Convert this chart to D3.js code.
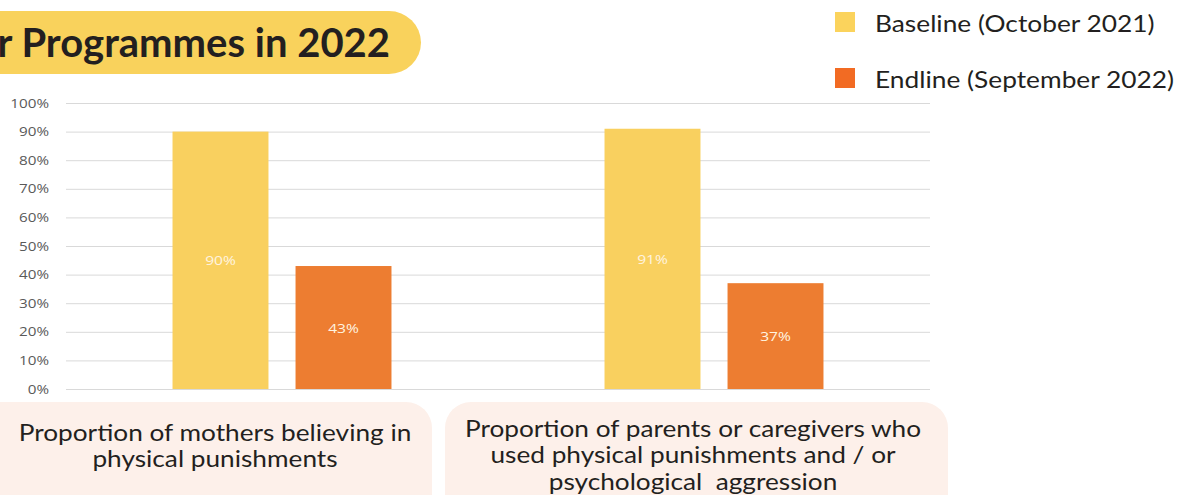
<!DOCTYPE html>
<html>
<head>
<meta charset="utf-8">
<script src="https://cdn.jsdelivr.net/npm/d3@7"></script>
<style>
  html, body { margin: 0; padding: 0; background: #fff; }
  svg { display: block; }
</style>
</head>
<body>
<svg id="chart" width="1193" height="495"></svg>
<script>
// data
const categories = ['mothers', 'parents'];
const categoryLines = [
  ['Proportion of mothers believing in', 'physical punishments'],
  ['Proportion of parents or caregivers who', 'used physical punishments and / or', 'psychological  aggression']
];
const seriesNames = ['Baseline (October 2021)', 'Endline (September 2022)'];
const baseline = [90, 91];
const endline = [43, 37];
const yTicks = [0, 10, 20, 30, 40, 50, 60, 70, 80, 90, 100];

const barColors = ['#F9D05F', '#ED7D31'];
const legendColors = ['#FBD35C', '#F26B23'];

const svg = d3.select('#chart');
const plot = { left: 66, right: 930, top: 103, bottom: 389 };

// title pill (cropped on the left)
svg.append('rect')
  .attr('x', -60).attr('y', 11).attr('width', 481).attr('height', 63)
  .attr('rx', 32).attr('fill', '#F9D25C');
svg.append('text')
  .attr('x', 390).attr('y', 57)
  .attr('text-anchor', 'end')
  .style('font-family', 'Lato').style('font-weight', 700).style('font-size', '40px')
  .attr('fill', '#231F20')
  .text('r Programmes in 2022');

// legend
const legend = svg.append('g');
seriesNames.forEach((name, i) => {
  const g = legend.append('g').attr('transform', `translate(835,${12 + i * 56})`);
  g.append('rect').attr('width', 20).attr('height', 20).attr('fill', legendColors[i]);
  g.append('text').attr('transform', 'translate(40,20) scale(1.12,1)')
    .style('font-family', 'Lato').style('font-size', '23.5px')
    .attr('fill', '#231F20').text(name);
});

// scales
const y = d3.scaleLinear().domain([0, 100]).range([plot.bottom, plot.top]);
const x0 = d3.scaleBand().domain(categories).range([plot.left, plot.right]).padding(0);
const x1 = d3.scaleBand().domain(seriesNames).range([0, x0.bandwidth()])
  .paddingInner(0.22).paddingOuter(0.866);

// gridlines
svg.append('g')
  .attr('transform', `translate(${plot.left},0)`)
  .call(d3.axisLeft(y).tickValues(yTicks).tickSize(-(plot.right - plot.left)).tickFormat(''))
  .call(g => g.select('.domain').remove())
  .call(g => g.selectAll('line').attr('stroke', '#D9D9D9').attr('stroke-width', 1));

// y tick labels
svg.append('g').selectAll('text')
  .data(yTicks).join('text')
  .attr('transform', d => `translate(49,${y(d) + 4.5}) scale(1.22,1)`)
  .attr('text-anchor', 'end')
  .style('font-family', 'Open Sans').style('font-size', '12.5px')
  .attr('fill', '#595959')
  .text(d => d + '%');

// bars
const rows = categories.map((c, i) => ({ cat: c, vals: [baseline[i], endline[i]] }));
const groups = svg.append('g').selectAll('g')
  .data(rows).join('g')
  .attr('transform', d => `translate(${x0(d.cat)},0)`);

groups.selectAll('rect')
  .data(d => d.vals.map((v, j) => ({ s: seriesNames[j], v, j })))
  .join('rect')
  .attr('x', d => x1(d.s))
  .attr('y', d => y(d.v))
  .attr('width', x1.bandwidth())
  .attr('height', d => y(0) - y(d.v))
  .attr('fill', d => barColors[d.j]);

groups.selectAll('text')
  .data(d => d.vals.map((v, j) => ({ s: seriesNames[j], v, j })))
  .join('text')
  .attr('transform', d => `translate(${x1(d.s) + x1.bandwidth() / 2},${(y(d.v) + y(0)) / 2 + 5}) scale(1.2,1)`)
  .attr('text-anchor', 'middle')
  .style('font-family', 'Open Sans').style('font-size', '13px')
  .attr('fill', '#FFF4E0')
  .text(d => d.v + '%');

// category boxes at the bottom
const boxes = [
  { x: -40, w: 472 },
  { x: 445, w: 503 }
];
categoryLines.forEach((lines, i) => {
  const b = boxes[i];
  svg.append('rect')
    .attr('x', b.x).attr('y', 402).attr('width', b.w).attr('height', 140)
    .attr('rx', 26).attr('fill', '#FDF0EA');
  const cx = i === 0 ? 215 : 693;
  const top = i === 0 ? 441 : 437;
  svg.append('g')
    .attr('transform', `translate(${cx},0) scale(1.14,1)`)
    .append('text')
    .attr('text-anchor', 'middle')
    .style('font-family', 'Lato').style('font-size', '23px')
    .style('white-space', 'pre')
    .attr('fill', '#231F20')
    .selectAll('tspan').data(lines).join('tspan')
    .attr('x', 0).attr('y', (d, k) => top + k * 26.5)
    .text(d => d);
});
</script>
</body>
</html>
